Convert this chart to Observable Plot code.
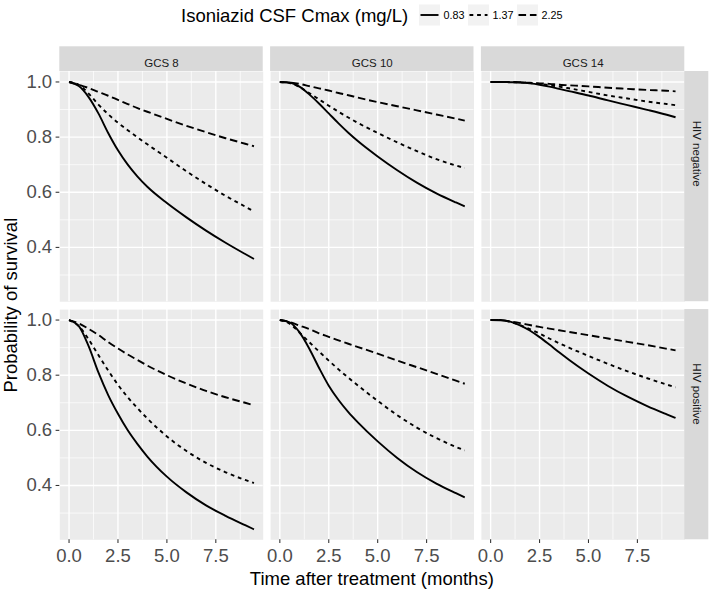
<!DOCTYPE html>
<html><head><meta charset="utf-8">
<script src="https://cdn.jsdelivr.net/npm/d3@7"></script>
<script src="https://cdn.jsdelivr.net/npm/@observablehq/plot@0.6"></script>
<style>
html,body{margin:0;padding:0;background:#fff;}
#wrap{position:relative;width:709px;height:589px;font-family:"Liberation Sans",Arial,Helvetica,sans-serif;}
#wrap svg{position:absolute;left:0;top:0;}
</style></head><body><div id="wrap"></div>
<script>
// ---- data ----
const times = [0, 0.5, 1, 1.5, 2, 2.5, 3, 3.5, 4, 5, 6, 7, 8, 9, 9.45];
const gcsLevels = ["GCS 8", "GCS 10", "GCS 14"];
const hivLevels = ["HIV negative", "HIV positive"];
const concLevels = ["0.83", "1.37", "2.25"];
const xTicks = [0, 2.5, 5, 7.5];
const xMinor = [1.25, 3.75, 6.25, 8.75];
const yTicks = [0.4, 0.6, 0.8, 1.0];
const yMinor = [0.3, 0.5, 0.7, 0.9];

// HIV negative
const neg8_083  = [1.0, 0.985, 0.945, 0.886, 0.815, 0.752, 0.70, 0.657, 0.62, 0.561, 0.509, 0.461, 0.417, 0.376, 0.358];
const neg8_137  = [1.0, 0.99, 0.958, 0.918, 0.883, 0.852, 0.825, 0.799, 0.774, 0.725, 0.676, 0.63, 0.587, 0.548, 0.53];
const neg8_225  = [1.0, 0.99, 0.978, 0.964, 0.95, 0.935, 0.92, 0.905, 0.892, 0.866, 0.841, 0.818, 0.796, 0.776, 0.767];
const neg10_083 = [1.0, 0.998, 0.983, 0.955, 0.922, 0.886, 0.85, 0.816, 0.785, 0.73, 0.68, 0.635, 0.596, 0.563, 0.549];
const neg10_137 = [1.0, 0.996, 0.982, 0.96, 0.937, 0.914, 0.892, 0.871, 0.851, 0.815, 0.781, 0.749, 0.72, 0.697, 0.688];
const neg10_225 = [1.0, 0.998, 0.993, 0.985, 0.977, 0.969, 0.96, 0.952, 0.943, 0.927, 0.912, 0.897, 0.882, 0.867, 0.86];
const neg14_083 = [1.0, 1.0, 0.999, 0.998, 0.995, 0.99, 0.983, 0.975, 0.967, 0.951, 0.933, 0.916, 0.899, 0.881, 0.872];
const neg14_137 = [1.0, 1.0, 0.999, 0.998, 0.996, 0.993, 0.988, 0.983, 0.977, 0.964, 0.951, 0.94, 0.929, 0.92, 0.916];
const neg14_225 = [1.0, 1.0, 1.0, 0.999, 0.997, 0.995, 0.993, 0.99, 0.988, 0.984, 0.979, 0.975, 0.971, 0.968, 0.966];
// HIV positive
const pos8_083  = [1.0, 0.978, 0.905, 0.81, 0.728, 0.66, 0.60, 0.55, 0.505, 0.432, 0.375, 0.328, 0.29, 0.256, 0.241];
const pos8_137  = [1.0, 0.978, 0.93, 0.873, 0.817, 0.765, 0.72, 0.68, 0.643, 0.578, 0.525, 0.482, 0.448, 0.42, 0.409];
const pos8_225  = [1.0, 0.988, 0.968, 0.946, 0.92, 0.897, 0.875, 0.855, 0.835, 0.80, 0.77, 0.743, 0.72, 0.70, 0.691];
const pos10_083 = [1.0, 0.992, 0.956, 0.897, 0.827, 0.762, 0.71, 0.666, 0.628, 0.56, 0.5, 0.449, 0.407, 0.372, 0.357];
const pos10_137 = [1.0, 0.987, 0.955, 0.92, 0.886, 0.853, 0.821, 0.791, 0.762, 0.707, 0.655, 0.61, 0.572, 0.54, 0.527];
const pos10_225 = [1.0, 0.993, 0.98, 0.967, 0.952, 0.939, 0.926, 0.914, 0.902, 0.878, 0.853, 0.829, 0.805, 0.78, 0.769];
const pos14_083 = [1.0, 0.999, 0.994, 0.981, 0.962, 0.938, 0.911, 0.883, 0.856, 0.806, 0.761, 0.722, 0.688, 0.658, 0.645];
const pos14_137 = [1.0, 1.0, 0.993, 0.982, 0.967, 0.951, 0.933, 0.916, 0.9, 0.87, 0.841, 0.814, 0.789, 0.766, 0.756];
const pos14_225 = [1.0, 1.0, 0.995, 0.989, 0.982, 0.975, 0.969, 0.963, 0.957, 0.945, 0.933, 0.921, 0.909, 0.896, 0.89];

// ---- build table ----
const seriesList = [
  ["HIV negative","GCS 8","0.83",neg8_083],["HIV negative","GCS 8","1.37",neg8_137],["HIV negative","GCS 8","2.25",neg8_225],
  ["HIV negative","GCS 10","0.83",neg10_083],["HIV negative","GCS 10","1.37",neg10_137],["HIV negative","GCS 10","2.25",neg10_225],
  ["HIV negative","GCS 14","0.83",neg14_083],["HIV negative","GCS 14","1.37",neg14_137],["HIV negative","GCS 14","2.25",neg14_225],
  ["HIV positive","GCS 8","0.83",pos8_083],["HIV positive","GCS 8","1.37",pos8_137],["HIV positive","GCS 8","2.25",pos8_225],
  ["HIV positive","GCS 10","0.83",pos10_083],["HIV positive","GCS 10","1.37",pos10_137],["HIV positive","GCS 10","2.25",pos10_225],
  ["HIV positive","GCS 14","0.83",pos14_083],["HIV positive","GCS 14","1.37",pos14_137],["HIV positive","GCS 14","2.25",pos14_225]
];
const rows = seriesList.flatMap(([hiv, gcs, conc, vals]) => vals.map((v, i) => ({hiv, gcs, conc, t: times[i], v})));

function expand([a, b]) { const s = b - a; return [a - 0.05 * s, b + 0.05 * s]; }
const xDom = expand(d3.extent(rows, d => d.t));
const yDom = expand(d3.extent(rows, d => d.v));

// ---- layout ----
const W = 709, H = 589;
const mL = 59.3, mR = 24.7, mT = 71, mB = 49.7;
const padX = 0.035, padY = 0.033;
const bwX = (W - mL - mR) / (3 - padX) * (1 - padX);
const bwY = (H - mT - mB) / (2 - padY) * (1 - padY);
const stripH = 24.7, stripW = 24;
const font = '"Liberation Sans", Arial, Helvetica, sans-serif';

const dashes = {"0.83": null, "1.37": "3.8,3.8", "2.25": "7.6,3.8"};
const lw = 1.9;

const lineMarks = concLevels.map(c => Plot.line(rows.filter(d => d.conc === c), {
  x: "t", y: "v", fx: "gcs", fy: "hiv", curve: "monotone-x",
  stroke: "black", strokeWidth: lw, strokeDasharray: dashes[c] ?? undefined, strokeLinecap: "butt"
}));

const chart = Plot.plot({
  width: W, height: H, marginLeft: mL, marginRight: mR, marginTop: mT, marginBottom: mB,
  style: {fontFamily: font, background: "transparent", overflow: "visible"},
  x: {domain: xDom, label: null},
  y: {domain: yDom, label: null},
  fx: {domain: gcsLevels, padding: padX, round: false, axis: null, label: null},
  fy: {domain: hivLevels, padding: padY, round: false, axis: null, label: null},
  marks: [
    Plot.frame({fill: "#EBEBEB", stroke: "none"}),
    Plot.gridX(xMinor, {stroke: "white", strokeOpacity: 1, strokeWidth: 0.7}),
    Plot.gridY(yMinor, {stroke: "white", strokeOpacity: 1, strokeWidth: 0.7}),
    Plot.gridX(xTicks, {stroke: "white", strokeOpacity: 1, strokeWidth: 1.4}),
    Plot.gridY(yTicks, {stroke: "white", strokeOpacity: 1, strokeWidth: 1.4}),
    // strips
    Plot.rect(gcsLevels, {fx: d => d, fy: () => "HIV negative", fill: "#D9D9D9", insetTop: -stripH, insetBottom: bwY}),
    Plot.text(gcsLevels, {fx: d => d, fy: () => "HIV negative", text: d => d, frameAnchor: "top", dy: -stripH / 2, fontSize: 11.5, fill: "#1A1A1A"}),
    Plot.rect(hivLevels, {fy: d => d, fx: () => "GCS 14", fill: "#D9D9D9", insetLeft: bwX, insetRight: -stripW}),
    Plot.text(hivLevels, {fy: d => d, fx: () => "GCS 14", text: d => d, frameAnchor: "right", dx: stripW / 2, rotate: 90, fontSize: 11.5, fill: "#1A1A1A"}),
    ...lineMarks,
    Plot.axisX(xTicks, {anchor: "bottom", tickFormat: d3.format(".1f"), tickSize: 3.7, tickPadding: 5.5, fontSize: 18.5, stroke: "#333333", fill: "#4D4D4D", strokeWidth: 1.07, label: null}),
    Plot.axisY(yTicks, {anchor: "left", tickFormat: d3.format(".1f"), tickSize: 3.7, tickPadding: 4, fontSize: 18.5, stroke: "#333333", fill: "#4D4D4D", strokeWidth: 1.07, label: null})
  ]
});
const wrap = document.getElementById("wrap");
wrap.appendChild(chart);

// ---- titles & legend overlay ----
const ov = d3.select(wrap).append("svg").attr("width", W).attr("height", H)
  .style("font-family", font).style("pointer-events", "none");
ov.append("text").attr("x", (mL + W - mR) / 2).attr("y", 585).attr("text-anchor", "middle")
  .attr("font-size", 18.5).attr("fill", "black").text("Time after treatment (months)");
ov.append("text").attr("transform", `translate(17,${(mT + H - mB) / 2}) rotate(-90)`).attr("text-anchor", "middle")
  .attr("font-size", 18.5).attr("fill", "black").text("Probability of survival");

const legY = 15;
ov.append("text").attr("x", 181).attr("y", legY + 6.5).attr("font-size", 18.5).attr("fill", "black")
  .text("Isoniazid CSF Cmax (mg/L)");
const keyX = [419, 468, 517];
concLevels.forEach((c, i) => {
  const g = ov.append("g").attr("transform", `translate(${keyX[i]},${legY - 10.5})`);
  g.append("rect").attr("width", 21).attr("height", 21).attr("fill", "#F2F2F2");
  g.append("line").attr("x1", 1.5).attr("x2", 19.5).attr("y1", 10.5).attr("y2", 10.5)
    .attr("stroke", "black").attr("stroke-width", lw).attr("stroke-dasharray", dashes[c] ?? null);
  ov.append("text").attr("x", keyX[i] + 24.5).attr("y", legY + 3.8).attr("font-size", 10.8).attr("fill", "black").text(c);
});
</script></body></html>
